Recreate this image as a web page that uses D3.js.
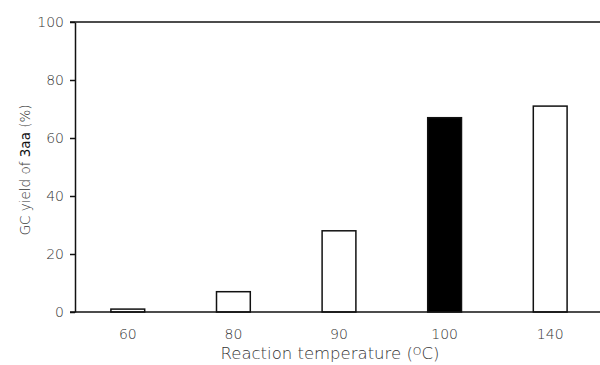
<!DOCTYPE html>
<html>
<head>
<meta charset="utf-8">
<script src="https://cdn.jsdelivr.net/npm/d3@7"></script>
<style>
  body { margin: 0; background: #fff; }
  text { font-family: "DejaVu Sans", sans-serif; font-weight: 200; fill: #333; }
</style>
</head>
<body>
<svg class="chart" width="600" height="365"></svg>
<script>
const temperatures = ["60", "80", "90", "100", "140"];
const yields = [1, 7, 28, 67, 71];
const highlighted = ["100"];
const yTicks = [0, 20, 40, 60, 80, 100];

const MARGIN = { top: 22, right: 0, bottom: 53, left: 75 };
const WIDTH = 600, HEIGHT = 365;

var chart = d3.select(".chart");

var x = d3.scaleBand()
  .domain(temperatures)
  .range([MARGIN.left, 603])
  .paddingInner(0.68)
  .paddingOuter(0.34);

var y = d3.scaleLinear()
  .domain([0, 100])
  .range([HEIGHT - MARGIN.bottom, MARGIN.top]);

// bars
chart.append("g")
  .selectAll("rect")
  .data(temperatures)
  .enter().append("rect")
  .attr("x", function(d) { return x(d); })
  .attr("width", x.bandwidth())
  .attr("y", function(d, i) { return y(yields[i]); })
  .attr("height", function(d, i) { return y(0) - y(yields[i]); })
  .attr("fill", function(d) { return highlighted.includes(d) ? "#000" : "#fff"; })
  .attr("stroke", "#111")
  .attr("stroke-width", 1.5);

// y axis
var yAxis = chart.append("g")
  .attr("transform", "translate(" + MARGIN.left + ",0)")
  .call(d3.axisLeft(y).tickValues(yTicks).tickSize(5).tickSizeOuter(0).tickPadding(6));
yAxis.select(".domain").attr("stroke", "#111").attr("stroke-width", 1.5);
yAxis.selectAll(".tick line").attr("stroke", "#111").attr("stroke-width", 1.5);
yAxis.selectAll(".tick text")
  .attr("font-size", "14px")
  .attr("font-family", "DejaVu Sans, sans-serif")
  .attr("fill", "#333");

// x axis (baseline)
chart.append("line")
  .attr("x1", MARGIN.left - 5).attr("x2", WIDTH)
  .attr("y1", y(0)).attr("y2", y(0))
  .attr("stroke", "#111").attr("stroke-width", 1.5);

// top frame line
chart.append("line")
  .attr("x1", MARGIN.left - 5).attr("x2", WIDTH)
  .attr("y1", y(100)).attr("y2", y(100))
  .attr("stroke", "#111").attr("stroke-width", 1.5);

// x tick labels
chart.append("g")
  .selectAll("text")
  .data(temperatures)
  .enter().append("text")
  .attr("x", function(d) { return x(d) + x.bandwidth() / 2; })
  .attr("y", 339)
  .attr("text-anchor", "middle")
  .attr("font-size", "14px")
  .text(function(d) { return d; });

// x label
var xLabel = chart.append("text")
  .attr("x", 330)
  .attr("y", 359)
  .attr("text-anchor", "middle")
  .attr("font-size", "16.5px");
xLabel.append("tspan").text("Reaction temperature (");
xLabel.append("tspan").attr("font-size", "11px").attr("dy", "-4").text("O");
xLabel.append("tspan").attr("dy", "4").text("C)");

// y label
var yLabel = chart.append("text")
  .attr("transform", "translate(30," + (y(49)) + ") rotate(-90)")
  .attr("text-anchor", "middle")
  .attr("font-size", "13.5px");
yLabel.append("tspan").text("GC yield of ");
yLabel.append("tspan").attr("font-weight", "normal").attr("fill", "#111").text("3aa");
yLabel.append("tspan").text(" (%)");
</script>
</body>
</html>
